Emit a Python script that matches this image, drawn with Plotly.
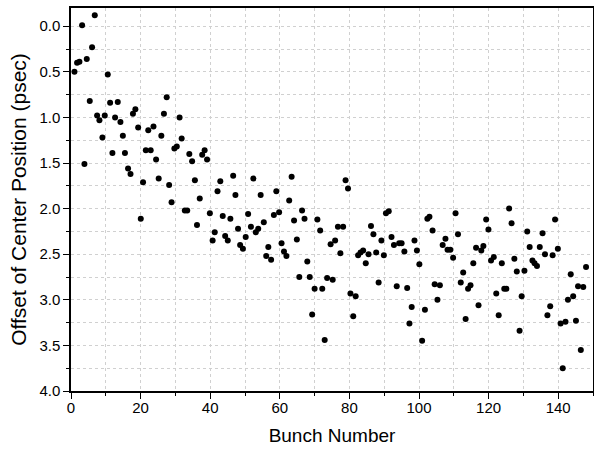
import plotly.graph_objects as go

bunch = [0.99, 1.75, 2.42, 3.19, 3.86, 4.53, 5.39, 6.06, 6.83, 7.5, 8.17, 9.03, 9.7, 10.57, 11.24, 11.9,
         12.67, 13.44, 14.2, 14.9, 15.5, 16.4, 17.1, 17.8, 18.5, 19.3, 20.05, 20.7, 21.5, 22.2, 22.9, 23.7,
         24.45, 25.2, 25.96, 26.7, 27.5, 28.2, 28.9, 29.7, 30.4, 31.2, 31.8, 32.7, 33.4, 34.0, 34.8, 35.6,
         36.2, 37.0, 37.7, 38.4, 39.1, 39.9, 40.7, 41.3, 42.1, 42.9, 43.6, 44.3, 45.05, 45.8, 46.6, 47.25,
         48.0, 48.6, 49.4, 50.2, 50.9, 51.7, 52.4, 53.1, 53.8, 54.5, 55.4, 56.1, 56.7, 57.5, 58.3, 59.0,
         59.8, 60.5, 61.2, 61.9, 62.7, 63.4, 64.1, 64.9, 65.6, 66.4, 67.1, 67.9, 68.6, 69.3, 70.0, 70.8,
         71.6, 72.2, 72.9, 73.6, 74.6, 75.2, 75.9, 76.7, 77.4, 78.2, 78.9, 79.6, 80.3, 81.1, 81.8, 82.5,
         83.2, 83.95, 84.7, 85.5, 86.2, 86.9, 87.7, 88.4, 89.2, 89.9, 90.5, 91.3, 92.1, 92.8, 93.6, 94.3,
         95.0, 95.8, 96.6, 97.25, 97.9, 98.7, 99.4, 100.1, 100.9, 101.7, 102.4, 103.0, 103.9, 104.5, 105.3,
         106.0, 106.8, 107.6, 108.2, 109.0, 109.8, 110.5, 111.2, 112.0, 112.7, 113.4, 114.1, 114.8, 115.6,
         116.4, 117.1, 117.9, 118.5, 119.3, 119.95, 120.7, 121.5, 122.2, 122.9, 123.8, 124.5, 125.1, 125.9,
         126.6, 127.4, 128.1, 128.9, 129.5, 130.3, 131.1, 131.8, 132.6, 133.2, 133.9, 134.7, 135.5, 136.2,
         136.9, 137.7, 138.4, 139.1, 139.9, 140.7, 141.3, 142.1, 142.8, 143.6, 144.3, 145.1, 145.7, 146.5,
         147.2, 148.0]

offset = [0.50, 0.40, 0.39, -0.01, 1.51, 0.36, 0.82, 0.23, -0.12, 0.98, 1.03, 1.22, 0.98, 0.53, 0.84, 1.39,
          1.00, 0.83, 1.05, 1.20, 1.39, 1.56, 1.62, 0.96, 0.91, 1.11, 2.11, 1.71, 1.36, 1.14, 1.36, 1.10,
          1.46, 1.67, 1.20, 0.96, 0.78, 1.74, 1.93, 1.34, 1.32, 1.00, 1.23, 2.02, 2.02, 1.40, 1.48, 1.69,
          2.18, 1.89, 1.41, 1.36, 1.46, 2.05, 2.35, 2.26, 1.81, 1.70, 2.08, 2.30, 2.35, 2.11, 1.64, 1.85,
          2.22, 2.40, 2.44, 2.31, 2.06, 2.20, 1.67, 2.26, 2.22, 1.85, 2.15, 2.52, 2.42, 2.56, 2.07, 1.81,
          2.04, 2.38, 2.47, 2.52, 1.91, 1.65, 2.13, 2.34, 2.75, 2.02, 2.11, 2.58, 2.75, 3.16, 2.88, 2.12,
          2.24, 2.88, 3.44, 2.76, 2.39, 2.78, 2.35, 2.20, 2.49, 2.20, 1.69, 1.78, 2.93, 3.18, 2.96, 2.51,
          2.48, 2.46, 2.60, 2.50, 2.19, 2.28, 2.48, 2.81, 2.35, 2.51, 2.05, 2.03, 2.31, 2.40, 2.85, 2.38,
          2.38, 2.47, 2.87, 3.26, 3.08, 2.35, 2.46, 2.61, 3.45, 3.11, 2.11, 2.09, 2.24, 2.83, 3.00,
          2.84, 2.40, 2.33, 2.45, 2.45, 2.54, 2.05, 2.28, 2.81, 2.70, 3.21, 2.88, 2.84, 2.60,
          2.43, 3.06, 2.46, 2.41, 2.12, 2.23, 2.57, 2.53, 2.93, 3.17, 2.60, 2.88, 2.88, 2.00,
          2.16, 2.55, 2.69, 3.34, 2.96, 2.68, 2.25, 2.42, 2.57, 2.60, 2.63, 2.42, 2.27, 2.50,
          3.17, 3.07, 2.51, 2.12, 2.44, 3.26, 3.75, 3.24, 3.00, 2.72, 2.96, 3.23, 2.85, 3.55,
          2.86, 2.64]

x_range = [0, 150]
y_range = [4.0, -0.2]

FONT = "Liberation Sans, Arial, sans-serif"
GRID = "#d0d0d0"

fig = go.Figure()
fig.add_trace(go.Scatter(x=bunch, y=offset, mode="markers",
                         marker=dict(color="black", size=6, line=dict(width=0)),
                         showlegend=False, cliponaxis=False))

axis_common = dict(showline=True, linecolor="black", linewidth=1.5, zeroline=False,
                   tickcolor="black", tickwidth=1.2, ticklen=6, automargin=False,
                   tickfont=dict(family=FONT, size=15, color="black"))

fig.update_layout(
    width=594, height=449,
    margin=dict(l=71, r=1, t=8, b=58),
    paper_bgcolor="white", plot_bgcolor="white",
    font=dict(family=FONT, color="black"),
    xaxis=dict(range=x_range, dtick=20, tick0=0, ticks="outside", mirror=True,
               ticklabelstandoff=-4,
               showgrid=True, gridcolor=GRID, griddash="dot", gridwidth=1,
               minor=dict(dtick=10, ticks="outside", ticklen=3, tickcolor="black",
                          showgrid=True, gridcolor=GRID, griddash="dot", gridwidth=1),
               title=dict(text="Bunch Number", font=dict(family=FONT, size=19), standoff=14),
               **axis_common),
    yaxis=dict(range=y_range, dtick=0.5, tick0=0, ticks="outside", mirror=True,
               tickformat=".1f",
               showgrid=True, gridcolor=GRID, griddash="dot", gridwidth=1,
               minor=dict(dtick=0.25, ticks="outside", ticklen=3, tickcolor="black",
                          showgrid=True, gridcolor=GRID, griddash="dot", gridwidth=1),
               title=dict(text="Offset of Center Position (psec)", font=dict(family=FONT, size=21), standoff=7),
               **axis_common),
    xaxis2=dict(range=x_range, overlaying="x", side="top", anchor="y", dtick=20, tick0=0,
                ticks="inside", ticklen=6, tickwidth=1.2, tickcolor="black", automargin=False,
                minor=dict(dtick=10, ticks="inside", ticklen=3, tickcolor="black"),
                showticklabels=False, showgrid=False, zeroline=False, showline=False),
    yaxis2=dict(range=y_range, overlaying="y", side="right", anchor="x", dtick=0.5, tick0=0,
                ticks="inside", ticklen=6, tickwidth=1.2, tickcolor="black", automargin=False,
                minor=dict(dtick=0.25, ticks="inside", ticklen=3, tickcolor="black"),
                showticklabels=False, showgrid=False, zeroline=False, showline=False),
)

fig.write_html("out.html", config={"displayModeBar": False},
               post_script="document.body.style.margin='0px';document.body.style.overflow='hidden';")
